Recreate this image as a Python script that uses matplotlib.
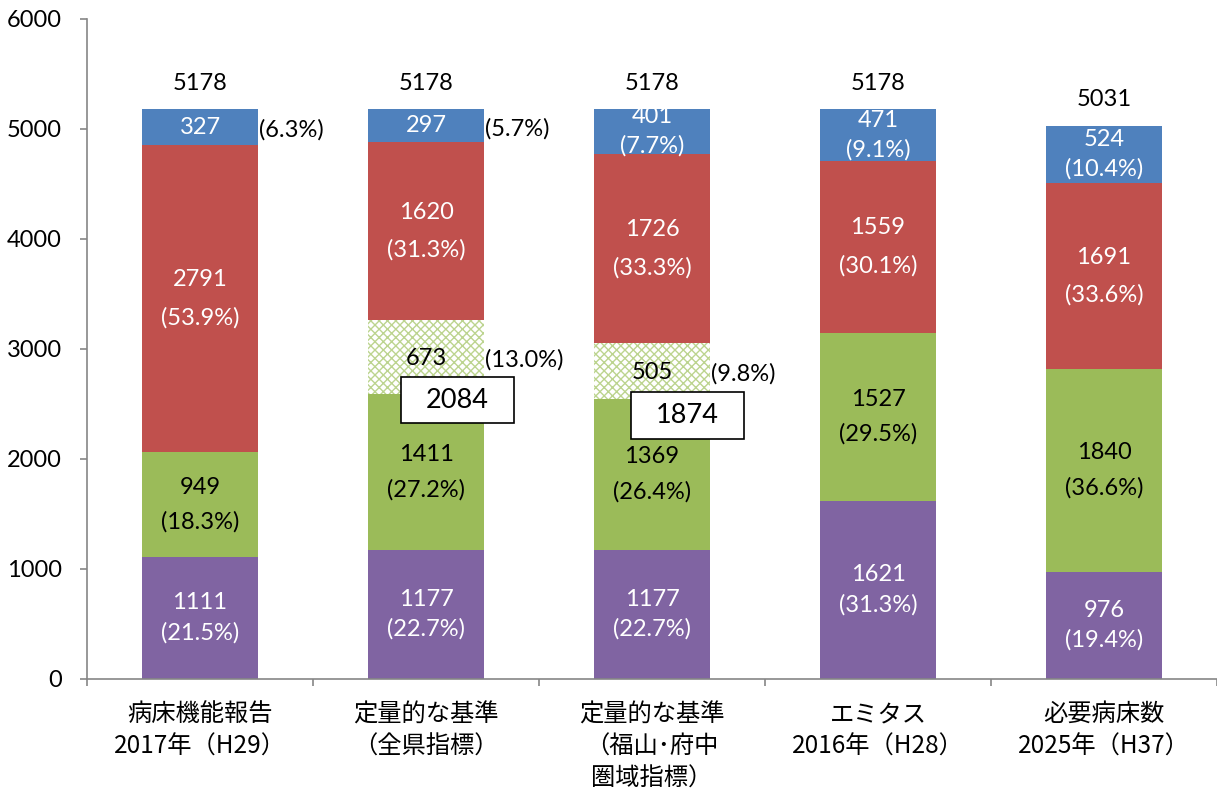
import numpy as np
import matplotlib.pyplot as plt
from matplotlib.patches import Rectangle

plt.rcParams['font.family'] = ['Noto Sans CJK JP', 'DejaVu Sans']
plt.rcParams['hatch.linewidth'] = 1.0

categories = ['病床機能報告\n2017年（H29）', '定量的な基準\n（全県指標）',
              '定量的な基準\n（福山･府中\n圏域指標）', 'エミタス\n2016年（H28）',
              '必要病床数\n2025年（H37）']

# stacked from bottom to top
chronic = [1111, 1177, 1177, 1621, 976]
recovery = [949, 1411, 1369, 1527, 1840]
acute_shift = [0, 673, 505, 0, 0]
acute = [2791, 1620, 1726, 1559, 1691]
high_acute = [327, 297, 401, 471, 524]

chronic_pct = ['21.5', '22.7', '22.7', '31.3', '19.4']
recovery_pct = ['18.3', '27.2', '26.4', '29.5', '36.6']
shift_pct = [None, '13.0', '9.8', None, None]
acute_pct = ['53.9', '31.3', '33.3', '30.1', '33.6']
high_pct = ['6.3', '5.7', '7.7', '9.1', '10.4']
high_pct_outside = [True, True, False, False, False]

# boxed sums (recovery + shifted acute) and where the boxes sit
box_bars = [1, 2]
box_pos = [(1.139, 2536), (2.155, 2395)]

c_blue = '#4F81BD'
c_red = '#C0504D'
c_green = '#9BBB59'
c_purple = '#8064A2'

num_font = ['Lato', 'Noto Sans CJK JP']
fs = 17
w = 0.51
x = np.arange(len(categories))

chronic = np.array(chronic)
recovery = np.array(recovery)
acute_shift = np.array(acute_shift)
acute = np.array(acute)
high_acute = np.array(high_acute)
totals = chronic + recovery + acute_shift + acute + high_acute

fig = plt.figure(figsize=(12.17, 7.91), dpi=100)
ax = fig.add_axes([0.0715, 0.1416, 0.9285, 0.8344])

b1 = chronic
b2 = b1 + recovery
b3 = b2 + acute_shift
b4 = b3 + acute

ax.bar(x, chronic, w, color=c_purple, lw=0)
ax.bar(x, recovery, w, bottom=b1, color=c_green, lw=0)
ax.bar(x, acute_shift, w, bottom=b2, color='white', edgecolor='#BCD48F',
       hatch='xxxx', lw=0)
ax.bar(x, acute, w, bottom=b3, color=c_red, lw=0)
ax.bar(x, high_acute, w, bottom=b4, color=c_blue, lw=0)


def two_line(xi, y, val, pct, color, gap_px):
    g = gap_px * 0.72 / 2
    ax.annotate(str(val), (xi, y), xytext=(0, g), textcoords='offset points',
                ha='center', va='center', color=color, fontsize=fs, family=num_font)
    ax.annotate(f'({pct}%)', (xi, y), xytext=(0, -g), textcoords='offset points',
                ha='center', va='center', color=color, fontsize=fs, family=num_font)


def outside(xi, y, pct):
    ax.annotate(f'({pct}%)', (xi + w / 2, y), xytext=(1, -2), textcoords='offset points',
                ha='left', va='center', color='black', fontsize=fs, family=num_font)


for i in range(len(x)):
    two_line(i, b1[i] - chronic[i] / 2, chronic[i], chronic_pct[i], 'white', 30)
    two_line(i, b2[i] - recovery[i] / 2, recovery[i], recovery_pct[i], 'black', 35)
    if acute_shift[i] > 0:
        ym = b3[i] - acute_shift[i] / 2
        ax.annotate(str(acute_shift[i]), (i, ym), xytext=(0, -1), textcoords='offset points',
                    ha='center', va='center', color='black', fontsize=fs, family=num_font)
        outside(i, ym, shift_pct[i])
    two_line(i, b4[i] - acute[i] / 2, acute[i], acute_pct[i], 'white', 38)
    ym = totals[i] - high_acute[i] / 2
    if high_pct_outside[i]:
        ax.annotate(str(high_acute[i]), (i, ym), ha='center', va='center',
                    color='white', fontsize=fs, family=num_font)
        outside(i, ym, high_pct[i])
    else:
        two_line(i, ym, high_acute[i], high_pct[i], 'white', 29)
    ax.annotate(str(totals[i]), (i, totals[i]), xytext=(0, 19), textcoords='offset points',
                ha='center', va='center', color='black', fontsize=fs, family=num_font)

for bi, (bx, by) in zip(box_bars, box_pos):
    ax.add_patch(Rectangle((bx - 0.25, by - 213), 0.5, 426, facecolor='white',
                           edgecolor='black', lw=1.2, zorder=5))
    ax.text(bx, by, str(recovery[bi] + acute_shift[bi]), ha='center', va='center',
            fontsize=19.5, color='black', zorder=6, family=num_font)

ax.set_xlim(-0.5, 4.5)
ax.set_ylim(0, 6000)
ax.set_yticks(np.arange(0, 6001, 1000))
ax.set_xticks(x)
ax.set_xticklabels(categories, fontsize=17.5, linespacing=1.3)
ax.set_xticks(np.arange(-0.5, 5, 1), minor=True)
ax.tick_params(axis='x', which='major', length=0, pad=16)
ax.tick_params(axis='x', which='minor', length=5, color='#868686', width=1.2)
ax.tick_params(axis='y', length=5, color='#868686', width=1.2, pad=13, labelsize=fs)
for lab in ax.get_yticklabels():
    lab.set_family(num_font)

for s in ['top', 'right']:
    ax.spines[s].set_visible(False)
for s in ['left', 'bottom']:
    ax.spines[s].set_color('#868686')
    ax.spines[s].set_linewidth(1.2)

fig.savefig('out.png', dpi=100)
